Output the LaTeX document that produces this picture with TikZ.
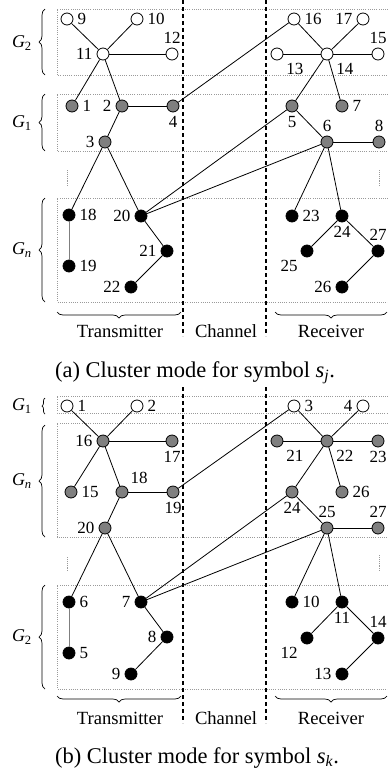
\documentclass[tikz,border=0pt]{standalone}
\usepackage{fontspec}
\setmainfont{Liberation Serif}
\usetikzlibrary{decorations.pathreplacing}
\definecolor{nodegray}{HTML}{7F7F7F}
\definecolor{boxgray}{HTML}{9A9A9A}
\newcommand{\Gl}[1]{\textit{G}\textsubscript{#1}}
\begin{document}
\begin{tikzpicture}[x=1pt,y=-1pt,
  nd/.style={circle,draw,line width=0.8pt,inner sep=0pt,minimum size=12pt},
  wn/.style={nd,fill=white},
  gn/.style={nd,fill=nodegray},
  bn/.style={nd,fill=black},
  every label/.style={font=\fontsize{17}{17}\selectfont,inner sep=1pt},
  label distance=3pt,
  ed/.style={line width=0.8pt},
  graylink/.style={line width=1pt,draw=nodegray},
  boxline/.style={draw=boxgray,line width=0.6pt,dash pattern=on 0.7pt off 1.5pt},
  vdots/.style={draw=boxgray,line width=0.6pt,dash pattern=on 0.7pt off 1.2pt},
  divider/.style={line width=1.2pt,dash pattern=on 4pt off 3pt},
  lbrace/.style={decorate,decoration={brace,amplitude=6pt},line width=0.7pt},
  bbrace/.style={decorate,decoration={brace,amplitude=6pt},line width=0.7pt},
  glab/.style={font=\fontsize{18}{18}\selectfont,anchor=east,inner sep=0pt},
  sidelab/.style={font=\fontsize{18.6}{18.6}\selectfont,anchor=base,inner sep=0pt},
  caption/.style={font=\fontsize{22.5}{22.5}\selectfont,anchor=base,inner sep=0pt}
]
\useasboundingbox (0,0) rectangle (388,774);

% ================= (a) =================
% dotted boxes
\draw[boxline] (388,9) -- (57,9) -- (57,75) -- (388,75);
\draw[boxline] (388,94) -- (57,94) -- (57,151) -- (388,151);
\draw[boxline] (388,198) -- (57,198) -- (57,302) -- (388,302);
\draw[vdots] (67,170) -- (67,187);
\draw[vdots] (379,170) -- (379,187);
% dividers
\draw[divider] (183,0) -- (183,336);
\draw[divider] (266,0) -- (266,336);
% braces
\draw[lbrace] (45,75) -- (45,9);
\draw[lbrace] (45,151) -- (45,94);
\draw[lbrace] (45,302) -- (45,198);
\node[glab] (aG2) at (32,43) {\Gl{2}};
\node[glab] (aG1) at (32,123) {\Gl{1}};
\node[glab] (aGn) at (32,250) {\Gl{\textit{n}}};
\draw[bbrace] (181,312) -- (57,312);
\draw[bbrace] (387,312) -- (275,312);
\node[sidelab] (aT) at (120,337) {Transmitter};
\node[sidelab] (aC) at (226,337) {Channel};
\node[sidelab] (aR) at (331,337) {Receiver};
\node[caption] (acap) at (195,377) {(a) Cluster mode for symbol \textit{s}\textsubscript{\textit{j}}.};

% transmitter nodes
\node[wn,label=right:9] (a9) at (67,19) {};
\node[wn,label=right:10] (a10) at (137,19) {};
\node[wn,label=left:11] (a11) at (103,54) {};
\node[wn,label=above:12] (a12) at (172,54) {};
\node[gn,label=right:1] (a1) at (72,106) {};
\node[gn,label=left:2] (a2) at (122,106) {};
\node[gn,label=below:4] (a4) at (173,106) {};
\node[gn,label=left:3] (a3) at (105,142) {};
\node[bn,label=right:18] (a18) at (69,215) {};
\node[bn,label=right:19] (a19) at (69,266) {};
\node[bn,label=left:20] (a20) at (141,216) {};
\node[bn,label=left:21] (a21) at (167,251) {};
\node[bn,label=left:22] (a22) at (131,287) {};
% receiver nodes
\node[wn,label=right:16] (a16) at (294,19) {};
\node[wn,label=left:17] (a17) at (363,19) {};
\node[wn,label={[label distance=5pt]-45:13}] (a13) at (277,54) {};
\node[wn,label={[label distance=5pt]-45:14}] (a14) at (327,54) {};
\node[wn,label=above:15] (a15) at (378,54) {};
\node[gn,label=below:5] (a5) at (292,106) {};
\node[gn,label=right:7] (a7) at (342,106) {};
\node[gn,label=above:6] (a6) at (327,142) {};
\node[gn,label=above:8] (a8) at (379,142) {};
\node[bn,label=right:23] (a23) at (292,216) {};
\node[bn,label=below:24] (a24) at (342,216) {};
\node[bn,label={[label distance=5pt]-135:25}] (a25) at (307,251) {};
\node[bn,label=above:27] (a27) at (378,251) {};
\node[bn,label=left:26] (a26) at (342,287) {};
% edges
\draw[ed] (a9) -- (a11);
\draw[ed] (a10) -- (a11);
\draw[ed] (a11) -- (a12);
\draw[ed] (a11) -- (a1);
\draw[ed] (a11) -- (a2);
\draw[ed] (a2) -- (a4);
\draw[ed] (a2) -- (a3);
\draw[ed] (a3) -- (a18);
\draw[ed] (a3) -- (a20);
\draw[graylink] (a18) -- (a19);
\draw[ed] (a20) -- (a21);
\draw[ed] (a21) -- (a22);
\draw[ed] (a4) -- (a16);
\draw[ed] (a20) -- (a5);
\draw[ed] (a20) -- (a6);
\draw[ed] (a16) -- (a14);
\draw[ed] (a17) -- (a14);
\draw[ed] (a13) -- (a14);
\draw[ed] (a14) -- (a15);
\draw[ed] (a14) -- (a5);
\draw[ed] (a14) -- (a7);
\draw[ed] (a5) -- (a6);
\draw[ed] (a6) -- (a8);
\draw[ed] (a6) -- (a23);
\draw[ed] (a6) -- (a24);
\draw[ed] (a24) -- (a25);
\draw[ed] (a24) -- (a27);
\draw[ed] (a27) -- (a26);

% ================= (b) =================
\draw[boxline] (388,396) -- (57,396) -- (57,413) -- (388,413);
\draw[boxline] (388,423) -- (57,423) -- (57,537) -- (388,537);
\draw[boxline] (388,585) -- (57,585) -- (57,689) -- (388,689);
\draw[vdots] (67,557) -- (67,572);
\draw[vdots] (379,555) -- (379,572);
\draw[divider] (183,387) -- (183,723);
\draw[divider] (266,387) -- (266,723);
\draw[decorate,decoration={brace,amplitude=3pt},line width=0.7pt] (45,414) -- (45,398);
\draw[lbrace] (45,537) -- (45,425);
\draw[lbrace] (45,689) -- (45,585);
\node[glab] (bG1) at (32,406) {\Gl{1}};
\node[glab] (bGn) at (32,481) {\Gl{\textit{n}}};
\node[glab] (bG2) at (32,637) {\Gl{2}};
\draw[bbrace] (181,696) -- (57,696);
\draw[bbrace] (387,696) -- (275,696);
\node[sidelab] (bT) at (120,724) {Transmitter};
\node[sidelab] (bC) at (226,724) {Channel};
\node[sidelab] (bR) at (331,724) {Receiver};
\node[caption] (bcap) at (197,763) {(b) Cluster mode for symbol \textit{s}\textsubscript{\textit{k}}.};

\node[wn,label=right:1] (b1) at (67,406) {};
\node[wn,label=right:2] (b2) at (137,406) {};
\node[gn,label=left:16] (b16) at (103,441) {};
\node[gn,label=below:17] (b17) at (172,441) {};
\node[gn,label=right:15] (b15) at (71,492) {};
\node[gn,label={[label distance=4pt]45:18}] (b18) at (122,492) {};
\node[gn,label=below:19] (b19) at (173,492) {};
\node[gn,label=left:20] (b20) at (105,528) {};
\node[bn,label=right:6] (b6) at (69,602) {};
\node[bn,label=right:5] (b5) at (69,653) {};
\node[bn,label=left:7] (b7) at (141,602) {};
\node[bn,label=left:8] (b8) at (167,637) {};
\node[bn,label=left:9] (b9) at (131,674) {};

\node[wn,label=right:3] (b3) at (294,406) {};
\node[wn,label=left:4] (b4) at (363,406) {};
\node[gn,label={[label distance=5pt]-45:21}] (b21) at (277,441) {};
\node[gn,label={[label distance=5pt]-45:22}] (b22) at (327,441) {};
\node[gn,label=below:23] (b23) at (378,441) {};
\node[gn,label=below:24] (b24) at (292,492) {};
\node[gn,label=right:26] (b26) at (342,492) {};
\node[gn,label=above:25] (b25) at (327,528) {};
\node[gn,label=above:27] (b27) at (378,528) {};
\node[bn,label=right:10] (b10) at (292,602) {};
\node[bn,label=below:11] (b11) at (342,602) {};
\node[bn,label={[label distance=5pt]-135:12}] (b12) at (307,638) {};
\node[bn,label=above:14] (b14) at (378,638) {};
\node[bn,label=left:13] (b13) at (342,674) {};

\draw[ed] (b1) -- (b16);
\draw[ed] (b2) -- (b16);
\draw[ed] (b16) -- (b17);
\draw[ed] (b16) -- (b15);
\draw[ed] (b16) -- (b18);
\draw[ed] (b18) -- (b19);
\draw[ed] (b18) -- (b20);
\draw[ed] (b20) -- (b6);
\draw[ed] (b20) -- (b7);
\draw[graylink] (b6) -- (b5);
\draw[ed] (b7) -- (b8);
\draw[ed] (b8) -- (b9);
\draw[ed] (b19) -- (b3);
\draw[ed] (b7) -- (b24);
\draw[ed] (b7) -- (b25);
\draw[ed] (b3) -- (b22);
\draw[ed] (b4) -- (b22);
\draw[ed] (b21) -- (b22);
\draw[ed] (b22) -- (b23);
\draw[ed] (b22) -- (b24);
\draw[ed] (b22) -- (b26);
\draw[ed] (b24) -- (b25);
\draw[ed] (b25) -- (b27);
\draw[ed] (b25) -- (b10);
\draw[ed] (b25) -- (b11);
\draw[ed] (b11) -- (b12);
\draw[ed] (b11) -- (b14);
\draw[ed] (b14) -- (b13);
\end{tikzpicture}
\end{document}
